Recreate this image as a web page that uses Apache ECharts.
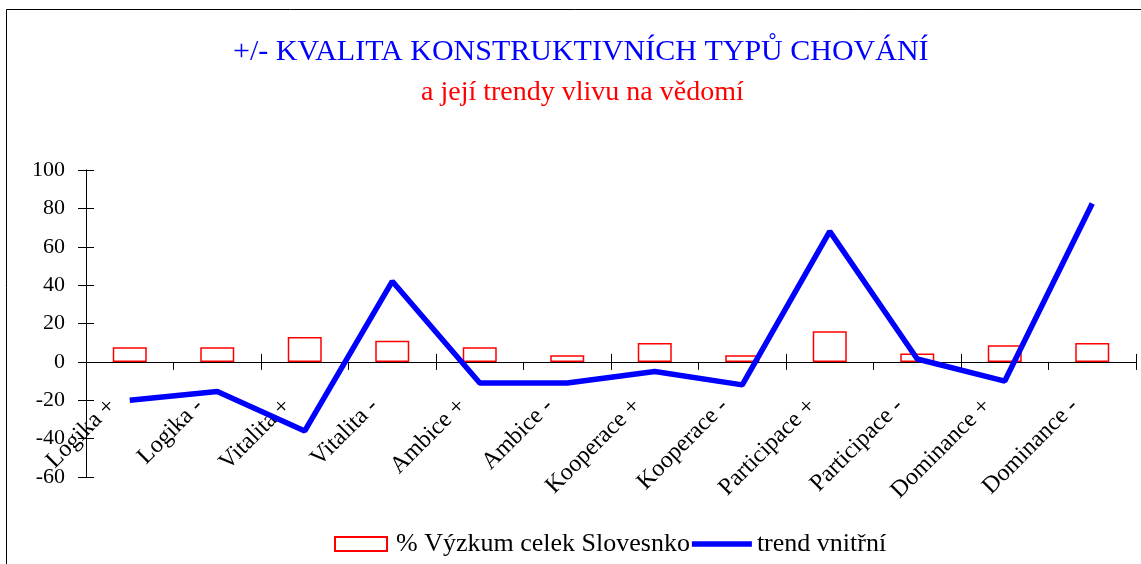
<!DOCTYPE html>
<html><head><meta charset="utf-8">
<script src="https://cdn.jsdelivr.net/npm/echarts@6/dist/echarts.min.js"></script>
<style>html,body{margin:0;padding:0;background:#fff}#c{width:1141px;height:564px}</style>
</head><body><div id="c"></div>
<script>
const categories = ["Logika +","Logika -","Vitalita +","Vitalita -","Ambice +","Ambice -","Kooperace +","Kooperace -","Participace +","Participace -","Dominance +","Dominance -"];
const barValues = [7.6, 7.6, 13, 11, 7.6, 3.5, 9.8, 3.4, 16, 4.3, 8.7, 9.8];
const lineValues = [-20, -15.4, -36, 42, -11, -11, -5, -12, 68, 1.5, -10, 82.5];
const barName = "% Výzkum celek Slovesnko";
const lineName = "trend vnitřní";
const yMin = -60, yMax = 100, yStep = 20;

const FONT = "Liberation Serif";
const GRID = {left:86, right:5, top:170, bottom:87};
const el = document.getElementById('c');
const plotH = 564 - GRID.top - GRID.bottom;
// distance from grid bottom up to the zero line
const zeroOffset = -plotH * (0 - yMin) / (yMax - yMin);
const chart = echarts.init(el, null, {renderer:'canvas'});
chart.setOption({
  animation:false,
  backgroundColor:'#fff',
  graphic:[{type:'rect', shape:{x:6.5,y:9.5,width:1300,height:700}, style:{fill:null, stroke:'#000', lineWidth:1}, z:-10}],
  title:[
    {text:"+/- KVALITA KONSTRUKTIVNÍCH TYPŮ CHOVÁNÍ", left:228, top:32, textStyle:{fontFamily:FONT, fontWeight:'normal', fontSize:30, color:'#0000ff'}},
    {text:"a její trendy vlivu na vědomí", left:416, top:74, textStyle:{fontFamily:FONT, fontWeight:'normal', fontSize:28, color:'#ff0000'}}
  ],
  legend:{
    bottom:2, left:329, itemWidth:60, itemHeight:14, itemGap:2,
    textStyle:{fontFamily:FONT, fontSize:26, color:'#000'},
    data:[{name:barName, icon:'path://M0,0H52V14H0Z'}, {name:lineName, icon:'path://M0,0H62V5.5H0Z'}]
  },
  grid:Object.assign({containLabel:false, outerBoundsMode:'none'}, GRID),
  xAxis:[
    {type:'category', data:categories, position:'bottom', offset:zeroOffset,
     axisLine:{onZero:false, lineStyle:{color:'#000', width:1}},
     axisTick:{show:true, length:8, lineStyle:{color:'#000'}},
     axisLabel:{rotate:45, interval:0, margin:23, padding:[0,25,0,0], fontFamily:FONT, fontSize:24, color:'#000'},
     splitLine:{show:false}},
    {type:'category', data:categories, position:'bottom', offset:zeroOffset,
     axisLine:{show:false, onZero:false},
     axisTick:{show:true, inside:true, length:8, lineStyle:{color:'#000'}},
     axisLabel:{show:false}, splitLine:{show:false}}
  ],
  yAxis:[
    {type:'value', min:yMin, max:yMax, interval:yStep, position:'left',
     axisLine:{show:true, onZero:false, lineStyle:{color:'#000'}},
     axisTick:{show:true, length:8, lineStyle:{color:'#000'}},
     axisLabel:{margin:21, fontFamily:FONT, fontSize:22, color:'#000'},
     splitLine:{show:false}},
    {type:'value', min:yMin, max:yMax, interval:yStep, position:'left',
     axisLine:{show:false, onZero:false},
     axisTick:{show:true, inside:true, length:8, lineStyle:{color:'#000'}},
     axisLabel:{show:false}, splitLine:{show:false}}
  ],
  series:[
    {name:barName, type:'bar', data:barValues, xAxisIndex:0, yAxisIndex:0, barWidth:34,
     itemStyle:{color:'#ffffff', borderColor:'#ff0000', borderWidth:1.5}, z:2},
    {name:lineName, type:'line', data:lineValues, xAxisIndex:0, yAxisIndex:0,
     symbol:'none', showSymbol:false, lineStyle:{color:'#0000ff', width:5.5}, itemStyle:{color:'#0000ff'}, z:5}
  ]
});
</script></body></html>
